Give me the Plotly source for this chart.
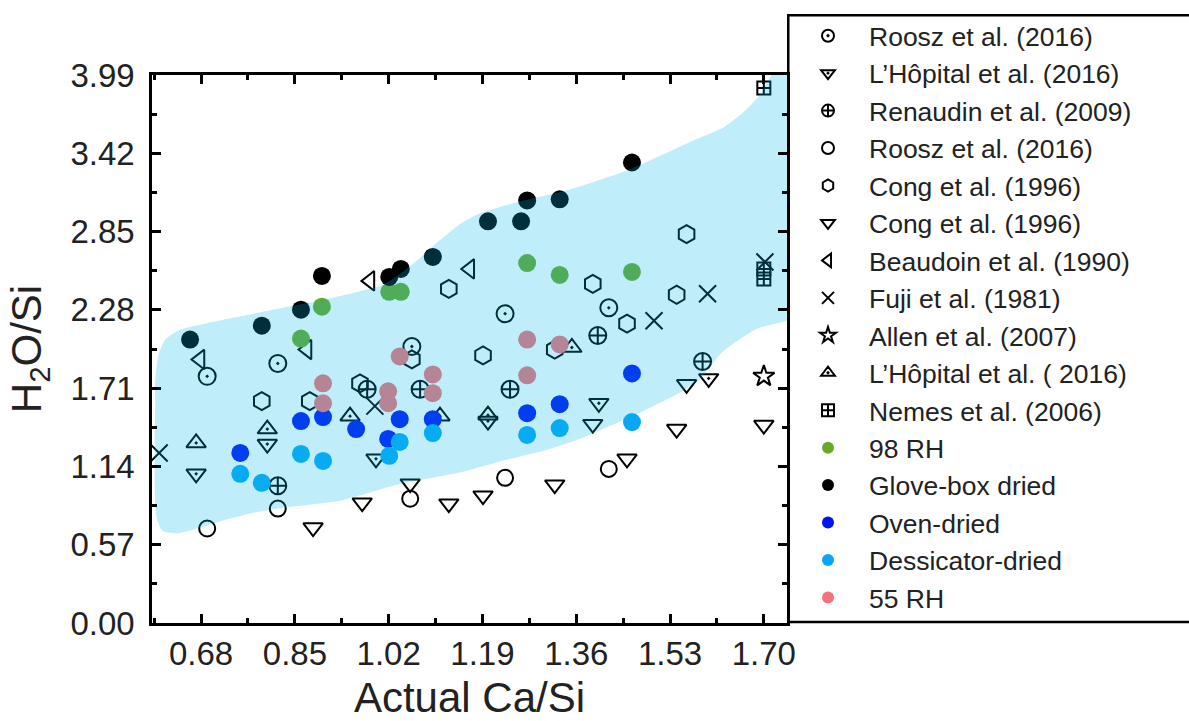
import plotly.graph_objects as go

# ---------------- data (Actual Ca/Si, H2O/Si) ----------------
roosz_dot_x = [0.691, 0.819, 1.062, 1.231, 1.419]
roosz_dot_y = [1.796, 1.890, 2.013, 2.252, 2.295]

lhop_down_x = [0.671, 0.800, 0.997, 1.200, 1.401, 1.600]
lhop_down_y = [1.086, 1.303, 1.195, 1.470, 1.600, 1.781]

renaudin_x = [0.819, 0.981, 1.077, 1.240, 1.399, 1.589]
renaudin_y = [0.999, 1.702, 1.702, 1.702, 2.093, 1.904]

roosz_open_x = [0.691, 0.819, 1.059, 1.231, 1.419]
roosz_open_y = [0.688, 0.833, 0.905, 1.057, 1.122]

cong_hex_x = [0.790, 0.877, 0.968, 1.062, 1.129, 1.191, 1.321, 1.390, 1.452, 1.542, 1.560]
cong_hex_y = [1.615, 1.615, 1.745, 1.919, 2.433, 1.948, 1.991, 2.469, 2.180, 2.390, 2.831]

cong_tri_x = [0.883, 0.972, 1.059, 1.129, 1.191, 1.321, 1.390, 1.452, 1.542, 1.560, 1.700]
cong_tri_y = [0.695, 0.876, 1.014, 0.869, 0.927, 1.007, 1.448, 1.195, 1.412, 1.738, 1.441]

beaudoin_x = [0.678, 0.872, 0.986, 1.167]
beaudoin_y = [1.919, 1.991, 2.491, 2.578]

fuji_x = [0.604, 0.995, 1.501, 1.598, 1.702]
fuji_y = [1.238, 1.579, 2.201, 2.397, 2.629]

allen_x = [1.700]
allen_y = [1.796]

lhop_up_x = [0.671, 0.800, 0.950, 1.113, 1.200, 1.352]
lhop_up_y = [1.311, 1.412, 1.506, 1.506, 1.513, 2.006]

nemes_x = [1.700, 1.700, 1.700]
nemes_y = [3.896, 2.578, 2.505]

rh98_x = [0.861, 0.899, 1.021, 1.042, 1.271, 1.330, 1.461]
rh98_y = [2.071, 2.303, 2.411, 2.411, 2.621, 2.534, 2.556]

glove_x = [0.660, 0.790, 0.861, 0.899, 1.021, 1.042, 1.100, 1.200, 1.260, 1.271, 1.330, 1.461]
glove_y = [2.064, 2.165, 2.281, 2.527, 2.520, 2.578, 2.665, 2.925, 2.925, 3.077, 3.085, 3.353]

oven_x = [0.751, 0.861, 0.901, 0.961, 1.019, 1.040, 1.100, 1.271, 1.330, 1.461]
oven_y = [1.238, 1.470, 1.499, 1.412, 1.340, 1.484, 1.484, 1.528, 1.593, 1.817]

dess_x = [0.751, 0.790, 0.861, 0.901, 1.021, 1.040, 1.100, 1.271, 1.330, 1.461]
dess_y = [1.086, 1.021, 1.231, 1.180, 1.217, 1.318, 1.383, 1.369, 1.419, 1.463]

rh55_x = [0.901, 0.901, 1.040, 1.019, 1.019, 1.100, 1.100, 1.271, 1.271, 1.330]
rh55_y = [1.745, 1.600, 1.941, 1.687, 1.600, 1.810, 1.673, 2.064, 1.803, 2.028]

# shaded band outline
band_x = [0.5967, 0.5967, 0.6021, 0.6148, 0.6420, 0.6782, 0.7380, 0.8286, 0.9191, 1.0097,
          1.0405, 1.0767, 1.1130, 1.1492, 1.1854, 1.2525, 1.3430, 1.4517, 1.5713, 1.6257,
          1.6619, 1.6927, 1.7145, 1.7600, 1.7600,
          1.6873, 1.6257, 1.5840, 1.5423, 1.4807, 1.4209, 1.3612, 1.2996, 1.2398, 1.1546,
          1.0351, 0.9318, 0.8286, 0.7688, 0.7199, 0.6782, 0.6365, 0.6093, 0.5985, 0.5967]
band_y = [1.614, 1.760, 1.941, 2.064, 2.136, 2.172, 2.223, 2.295, 2.368, 2.462,
          2.542, 2.658, 2.788, 2.904, 2.983, 3.063, 3.150, 3.295, 3.512, 3.606,
          3.715, 3.845, 3.990, 4.100, 2.245,
          2.143, 1.977, 1.774, 1.665, 1.542, 1.434, 1.332, 1.253, 1.195, 1.101,
          1.007, 0.891, 0.840, 0.797, 0.746, 0.695, 0.652, 0.673, 0.782, 1.614]

x_ticks = [0.68, 0.85, 1.02, 1.19, 1.36, 1.53, 1.70]
y_ticks = [0.00, 0.57, 1.14, 1.71, 2.28, 2.85, 3.42, 3.99]

# ---------------- figure ----------------
INK = "black"
open_series = [
    ("Roosz et al. (2016)", roosz_dot_x, roosz_dot_y, "circle-open-dot", 17),
    ("L\u2019H\u00f4pital et al. (2016)", lhop_down_x, lhop_down_y, "triangle-down-open-dot", 17),
    ("Renaudin et al. (2009)", renaudin_x, renaudin_y, "circle-cross-open", 17),
    ("Roosz et al. (2016)", roosz_open_x, roosz_open_y, "circle-open", 16),
    ("Cong et al. (1996)", cong_hex_x, cong_hex_y, "hexagon-open", 18),
    ("Cong et al. (1996)", cong_tri_x, cong_tri_y, "triangle-down-open", 17),
    ("Beaudoin et al. (1990)", beaudoin_x, beaudoin_y, "triangle-left-open", 17),
    ("Fuji et al. (1981)", fuji_x, fuji_y, "x-thin-open", 17),
    ("Allen et al. (2007)", allen_x, allen_y, "star-open", 16),
    ("L\u2019H\u00f4pital et al. ( 2016)", lhop_up_x, lhop_up_y, "triangle-up-open-dot", 17),
    ("Nemes et al. (2006)", nemes_x, nemes_y, "square-cross-open", 13),
]
filled_series = [
    ("98 RH", rh98_x, rh98_y, "#6aa82a"),
    ("Glove-box dried", glove_x, glove_y, "#000000"),
    ("Oven-dried", oven_x, oven_y, "#0014f0"),
    ("Dessicator-dried", dess_x, dess_y, "#08a6f5"),
    ("55 RH", rh55_x, rh55_y, "#f2737a"),
]

fig = go.Figure()
for name, xs, ys, sym, sz in open_series:
    fig.add_trace(go.Scatter(
        x=xs, y=ys, mode="markers", name=name,
        marker=dict(symbol=sym, size=sz, color=INK, line=dict(color=INK, width=2)),
    ))
for name, xs, ys, col in filled_series:
    fig.add_trace(go.Scatter(
        x=xs, y=ys, mode="markers", name=name,
        marker=dict(symbol="circle", size=18, color=col, line=dict(width=0)),
    ))

# translucent band drawn over the markers
fig.add_trace(go.Scatter(
    x=band_x, y=band_y, mode="lines", fill="toself",
    line=dict(width=0, shape="spline", smoothing=0.6),
    fillcolor="rgba(0,187,235,0.25)", showlegend=False, hoverinfo="skip",
))

FONT = "Arial, Liberation Sans, sans-serif"
axis_common = dict(
    showline=True, linecolor="black", linewidth=2.5, mirror="ticks",
    ticks="inside", ticklen=9, tickwidth=2.5, tickcolor="black",
    showgrid=False, zeroline=False, automargin=False,
    tickfont=dict(family=FONT, size=33, color="#222"),
)
fig.update_xaxes(
    **axis_common, range=[0.591, 1.742],
    tickvals=x_ticks, ticktext=[f"{v:.2f}" for v in x_ticks],
    minor=dict(ticks="inside", ticklen=5, tickwidth=2.5, tickcolor="black", dtick=0.085, tick0=0.68),
    ticklabelstandoff=0,
    title=dict(text="Actual Ca/Si", font=dict(family=FONT, size=42, color="#222"), standoff=14),
)
fig.update_yaxes(
    **axis_common, range=[0, 3.99],
    tickvals=y_ticks, ticktext=[f"{v:.2f}" for v in y_ticks],
    minor=dict(ticks="inside", ticklen=5, tickwidth=2.5, tickcolor="black", dtick=0.285, tick0=0),
    ticklabelstandoff=8,
    title=dict(text="H<sub>2</sub>O/Si", font=dict(family=FONT, size=42, color="#222"), standoff=16),
)

# legend frame that runs off the right edge of the picture
fig.add_shape(
    type="rect", xref="paper", yref="paper",
    x0=1.002, x1=1.66, y0=0.002, y1=1.109,
    line=dict(color="black", width=2.5), fillcolor="rgba(0,0,0,0)", layer="above",
)

fig.update_layout(
    width=1189, height=721,
    margin=dict(l=152, r=402, t=72, b=98),
    paper_bgcolor="white", plot_bgcolor="white",
    font=dict(family=FONT, color="#222"),
    legend=dict(
        x=1.0, xanchor="left", y=1.115, yanchor="top",
        borderwidth=0, bgcolor="rgba(0,0,0,0)",
        font=dict(family=FONT, size=26.5, color="#222"),
        itemsizing="constant", itemwidth=72, tracegroupgap=0, maxheight=1000,
    ),
)

fig.write_html("out.html")
